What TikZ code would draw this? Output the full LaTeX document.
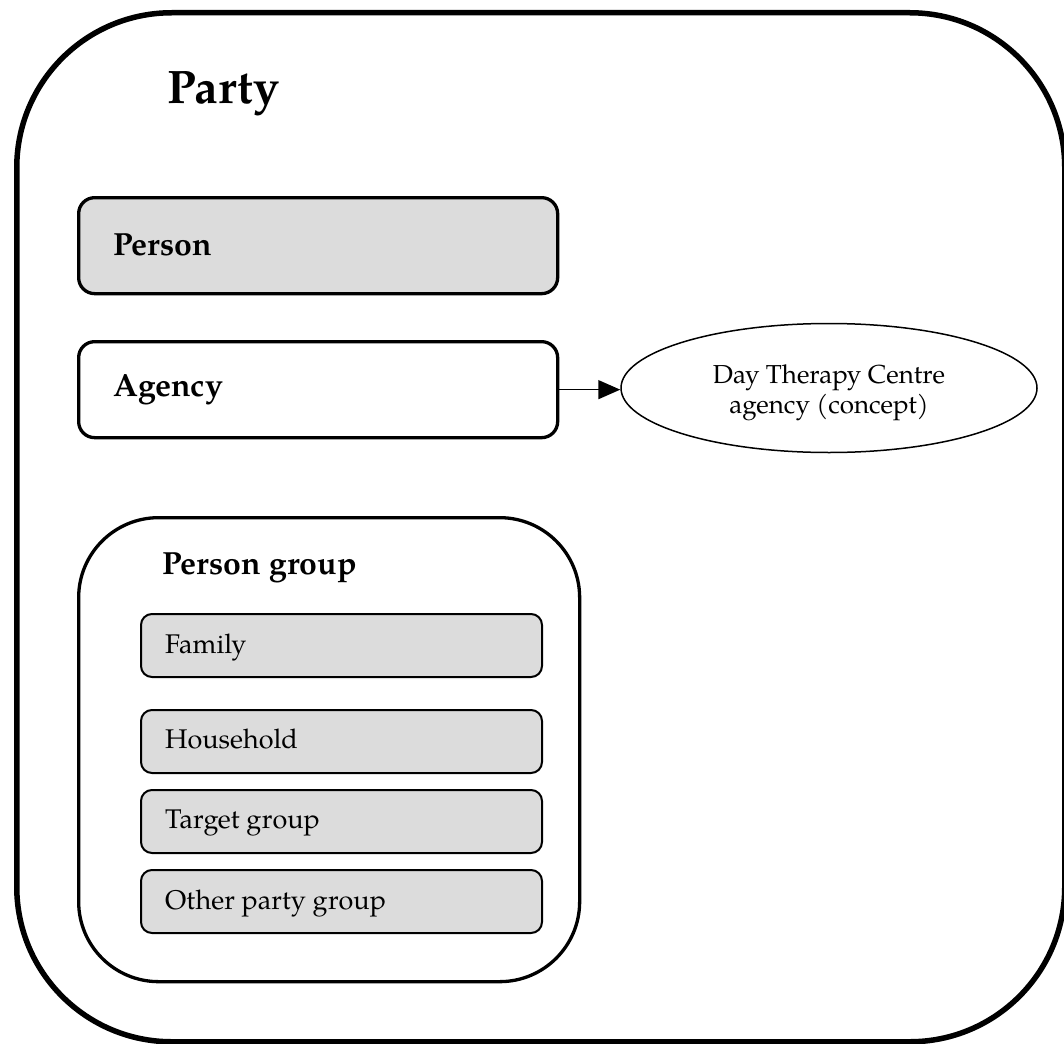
\documentclass[tikz,border=0pt]{standalone}
\usepackage{fontspec}
\setmainfont{texgyrepagella}[Extension=.otf, UprightFont=*-regular, BoldFont=*-bold, ItalicFont=*-italic, BoldItalicFont=*-bolditalic]
\usetikzlibrary{shapes.geometric,arrows.meta}
\definecolor{boxgray}{HTML}{DCDCDC}

\begin{document}
\begin{tikzpicture}[x=1pt,y=-1pt,
  frame/.style={draw, line width=5.5pt, rounded corners=155pt, inner sep=0pt, anchor=north west},
  mainbox/.style={draw, line width=3.3pt, rounded corners=16pt, inner sep=0pt, anchor=north west,
                  minimum width=479pt, minimum height=96pt},
  groupbox/.style={draw, line width=3.3pt, rounded corners=80pt, inner sep=0pt, anchor=north west},
  subbox/.style={draw, line width=2pt, rounded corners=11pt, fill=boxgray, inner sep=0pt,
                 anchor=north west, minimum width=401pt, minimum height=63pt},
  conceptshape/.style={draw, ellipse, line width=1.5pt, inner sep=0pt},
  concepttext/.style={inner sep=0pt, align=center, font=\fontsize{26}{30}\selectfont},
  titletext/.style={anchor=base west, inner sep=0pt, font=\fontsize{47}{52}\selectfont\bfseries},
  headtext/.style={anchor=base west, inner sep=0pt, font=\fontsize{32}{36}\selectfont\bfseries},
  itemtext/.style={anchor=base west, inner sep=0pt, font=\fontsize{27}{32}\selectfont},
  link/.style={line width=1.5pt, -{Triangle[length=22pt,width=19pt]}}
]
\useasboundingbox (0,0) rectangle (1064,1043);

% outer Party frame
\node[frame, minimum width=1048pt, minimum height=1029pt] (party) at (14,10) {};
\node[titletext] (partytitle) at (167,104) {Party};

% Person and Agency
\node[mainbox, fill=boxgray] (person) at (77,196) {};
\node[headtext] (persontext) at (113,255) {Person};
\node[mainbox, fill=white] (agency) at (77,340) {};
\node[headtext] (agencytext) at (113,396) {Agency};

% concept ellipse and its link
\node[conceptshape, minimum width=416pt, minimum height=129pt] (dtc) at (829,388) {};
\node[concepttext] (dtctext) at (829,393) {Day Therapy Centre\\agency (concept)};
\draw[link] (agency.east) -- (agency.east -| dtc.west);

% Person group with its members
\node[groupbox, minimum width=501pt, minimum height=464pt] (pgroup) at (77,516) {};
\node[headtext] (pgrouptext) at (162,574) {Person group};

\node[subbox] (family) at (140,613) {};
\node[itemtext] (familytext) at (165,653) {Family};
\node[subbox] (household) at (140,709) {};
\node[itemtext] (householdtext) at (165,748) {Household};
\node[subbox] (target) at (140,789) {};
\node[itemtext] (targettext) at (165,828) {Target group};
\node[subbox] (other) at (140,869) {};
\node[itemtext] (othertext) at (165,909) {Other party group};
\end{tikzpicture}
\end{document}
